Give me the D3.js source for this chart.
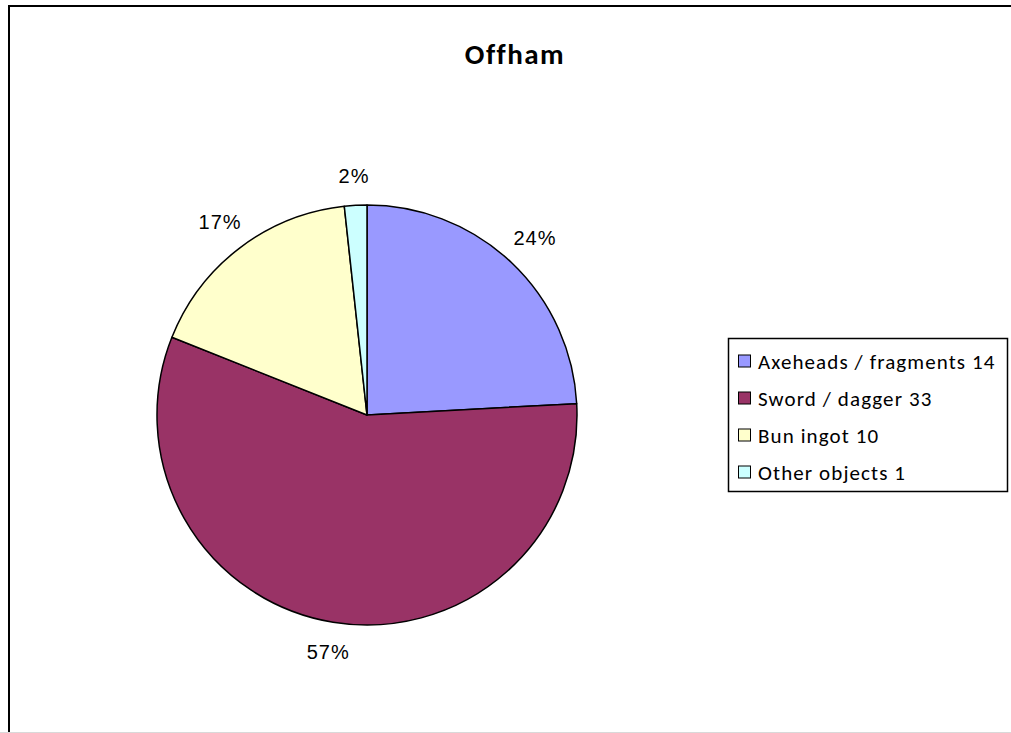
<!DOCTYPE html>
<html><head><meta charset="utf-8">
<script src="https://cdn.jsdelivr.net/npm/d3@7"></script>
<style>body{margin:0;background:#fff}svg{display:block}</style>
</head><body>
<script>
const categories = ["Axeheads / fragments", "Sword / dagger", "Bun ingot", "Other objects"];
const values = [14, 33, 10, 1];
const colors = ["#9999FF", "#993366", "#FFFFCC", "#CCFFFF"];
const title = "Offham";

const W = 1011, H = 733;
const svg = d3.select("body").append("svg").attr("width", W).attr("height", H);
svg.append("rect").attr("x", 9).attr("y", 6).attr("width", 1010).attr("height", 733)
  .attr("fill", "#fff").attr("stroke", "#000").attr("stroke-width", 2);
svg.append("line").attr("x1", 0).attr("x2", W).attr("y1", 732.5).attr("y2", 732.5)
  .attr("stroke", "#d9d9d9").attr("stroke-width", 1);

svg.append("text").attr("x", 515).attr("y", 64).attr("text-anchor", "middle")
  .attr("font-family", "Carlito, Lato, 'Open Sans', sans-serif").attr("font-weight", "bold")
  .attr("font-size", 29).attr("letter-spacing", 1.5).text(title);

const cx = 367, cy = 415, r = 210;
const total = d3.sum(values);
const pie = d3.pie().sort(null).value(d => d)(values);
const arc = d3.arc().innerRadius(0).outerRadius(r);
const g = svg.append("g").attr("transform", `translate(${cx},${cy})`);
g.selectAll("path").data(pie).join("path")
  .attr("d", arc).attr("fill", (d, i) => colors[i])
  .attr("stroke", "#000").attr("stroke-width", 1.5).attr("stroke-linejoin", "round");

// label placed so its box sits a fixed gap outside the circle
const gap = 19, halfW = 24, halfH = 11;
function labelPos(d) {
  const a = (d.startAngle + d.endAngle) / 2;
  const sx = Math.sin(a), sy = -Math.cos(a);
  const e = Math.min(Math.abs(sx) > 1e-6 ? halfW / Math.abs(sx) : 1e9,
                     Math.abs(sy) > 1e-6 ? halfH / Math.abs(sy) : 1e9);
  const R = r + gap + e;
  return [sx * R, sy * R];
}
g.selectAll("text").data(pie).join("text")
  .attr("transform", d => `translate(${labelPos(d)})`)
  .attr("text-anchor", "middle").attr("dy", "0.36em")
  .attr("font-family", "'Liberation Sans', Arial, sans-serif").attr("font-size", 20)
  .attr("letter-spacing", 1)
  .text(d => Math.round(d.value / total * 100) + "%");

const lg = svg.append("g");
lg.append("rect").attr("x", 728.5).attr("y", 338.5).attr("width", 279).attr("height", 153)
  .attr("fill", "#fff").attr("stroke", "#000").attr("stroke-width", 1.5);
const y = d3.scalePoint().domain(categories).range([361, 472]);
const rows = lg.selectAll("g.row").data(categories).join("g").attr("class", "row")
  .attr("transform", d => `translate(0,${y(d)})`);
rows.append("rect").attr("x", 738.5).attr("y", -6).attr("width", 12).attr("height", 12)
  .attr("fill", (d, i) => colors[i]).attr("stroke", "#000").attr("stroke-width", 1);
rows.append("text").attr("x", 758).attr("dy", "0.36em")
  .attr("font-family", "Carlito, Lato, 'Open Sans', sans-serif").attr("font-size", 21)
  .attr("letter-spacing", 1.1)
  .text((d, i) => d + " " + values[i]);
</script>
</body></html>
